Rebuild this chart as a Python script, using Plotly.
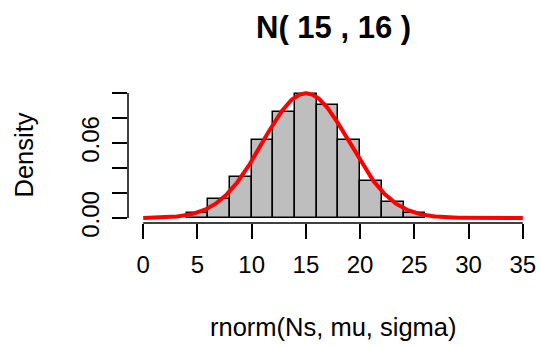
import math
import plotly.graph_objects as go

# Histogram of simulated draws (density scale), bins of width 2
bin_left = [4, 6, 8, 10, 12, 14, 16, 18, 20, 22, 24]
bin_width = 2
density = [0.0043, 0.0150, 0.0325, 0.0627, 0.0848, 0.0995,
           0.0907, 0.0627, 0.0293, 0.0126, 0.0043]

# Theoretical normal N(mu, variance)
mu = 15
variance = 16
sigma = math.sqrt(variance)

x_ticks = [0, 5, 10, 15, 20, 25, 30, 35]
y_ticks = [0.00, 0.02, 0.04, 0.06, 0.08, 0.10]
y_tick_text = ["0.00", "", "", "0.06", "", ""]

FONT = "Liberation Sans, Arial, Helvetica, sans-serif"

centers = [b + bin_width / 2 for b in bin_left]

curve_x = [x_ticks[0] + i * (x_ticks[-1] - x_ticks[0]) / 400 for i in range(401)]
curve_y = [math.exp(-((v - mu) ** 2) / (2 * variance)) / (sigma * math.sqrt(2 * math.pi))
           for v in curve_x]

fig = go.Figure()
fig.add_trace(go.Bar(
    x=centers, y=density, width=[bin_width] * len(centers),
    marker=dict(color="#BEBEBE", line=dict(color="black", width=1.5)),
    hoverinfo="skip",
))
fig.add_trace(go.Scatter(
    x=curve_x, y=curve_y, mode="lines",
    line=dict(color="#FF0000", width=4),
    hoverinfo="skip",
))

x_pad = 0.04 * (x_ticks[-1] - x_ticks[0])
y_pad = 0.04 * (y_ticks[-1] - y_ticks[0])

fig.update_layout(
    width=541, height=346,
    margin=dict(l=128, r=2.5, t=88, b=123),
    paper_bgcolor="white", plot_bgcolor="white",
    showlegend=False, bargap=0,
    font=dict(family=FONT, size=24, color="black"),
    xaxis=dict(
        range=[x_ticks[0] - x_pad, x_ticks[-1] + x_pad],
        tickvals=x_ticks, ticktext=[str(t) for t in x_ticks],
        ticks="outside", ticklen=15, tickwidth=1.5, tickcolor="black",
        showline=False, showgrid=False, zeroline=False,
        ticklabelstandoff=5,
        tickfont=dict(family=FONT, size=24),
    ),
    yaxis=dict(
        range=[y_ticks[0] - y_pad, y_ticks[-1] + y_pad],
        tickvals=y_ticks, ticktext=y_tick_text,
        ticks="outside", ticklen=15, tickwidth=1.5, tickcolor="black",
        showline=False, showgrid=False, zeroline=False,
        tickangle=-90,
        ticklabelstandoff=3,
        tickfont=dict(family=FONT, size=24),
    ),
    shapes=[
        dict(type="line", xref="x", yref="paper", x0=x_ticks[0], x1=x_ticks[-1],
             y0=0, y1=0, line=dict(color="black", width=1.5)),
        dict(type="line", xref="paper", yref="y", x0=0, x1=0,
             y0=y_ticks[0], y1=y_ticks[-1], line=dict(color="black", width=1.5)),
    ],
    annotations=[
        dict(text="<b>N( 15 , 16 )</b>", xref="paper", yref="paper",
             x=0.5, y=0, yshift=(346 - 123) - 27, showarrow=False,
             xanchor="center", yanchor="middle",
             font=dict(family=FONT, size=31)),
        dict(text="rnorm(Ns, mu, sigma)", xref="paper", yref="paper",
             x=0.5, y=0, yshift=-(327 - 223), showarrow=False,
             xanchor="center", yanchor="middle",
             font=dict(family=FONT, size=25.5)),
        dict(text="Density", xref="paper", yref="paper",
             x=0, xshift=-(128 - 23), y=0.5, textangle=-90, showarrow=False,
             xanchor="center", yanchor="middle",
             font=dict(family=FONT, size=25.5)),
    ],
)

fig.write_html("out.html")
